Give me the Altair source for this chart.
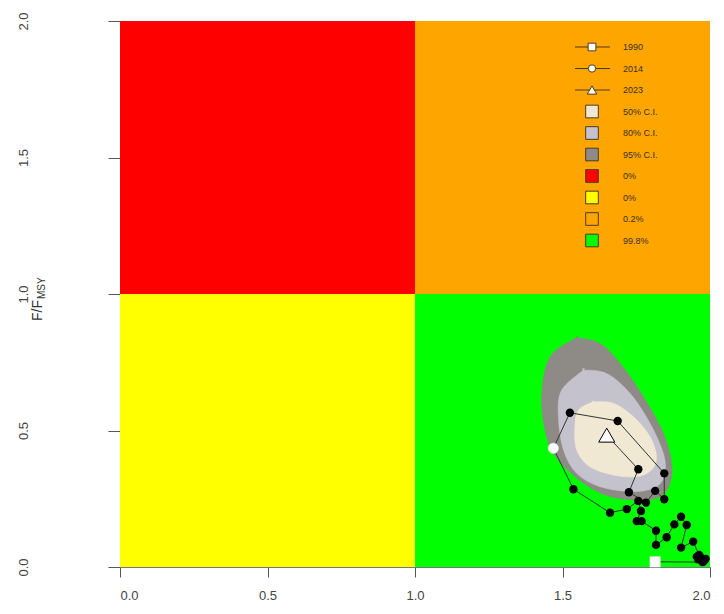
import altair as alt
import pandas as pd

# ---------------- data ----------------
years = list(range(1990, 2024))
b_ratio = [1.814, 1.975, 1.985, 1.972, 1.960, 1.980, 1.968, 1.955, 1.963, 1.943,
           1.902, 1.921, 1.902, 1.879, 1.853, 1.817, 1.817, 1.768, 1.752, 1.766,
           1.757, 1.718, 1.661, 1.537, 1.469, 1.525, 1.687, 1.845, 1.845, 1.814,
           1.783, 1.725, 1.757, 1.650]
f_ratio = [0.019, 0.018, 0.030, 0.026, 0.028, 0.022, 0.035, 0.038, 0.044, 0.093,
           0.071, 0.154, 0.184, 0.156, 0.109, 0.081, 0.133, 0.168, 0.168, 0.205,
           0.242, 0.212, 0.199, 0.285, 0.435, 0.565, 0.535, 0.343, 0.248, 0.279,
           0.236, 0.274, 0.358, 0.483]

# confidence-region outlines (vertices)
ci95_x = [1.548, 1.458, 1.429, 1.446, 1.486, 1.571, 1.661, 1.763, 1.831, 1.864, 1.870, 1.842, 1.774, 1.695, 1.627]
ci95_y = [0.840, 0.770, 0.624, 0.477, 0.392, 0.307, 0.258, 0.245, 0.258, 0.307, 0.380, 0.490, 0.624, 0.746, 0.819]
ci80_x = [1.571, 1.497, 1.486, 1.503, 1.548, 1.627, 1.740, 1.819, 1.847, 1.842, 1.797, 1.729, 1.650]
ci80_y = [0.722, 0.648, 0.551, 0.429, 0.343, 0.294, 0.276, 0.294, 0.343, 0.416, 0.526, 0.636, 0.709]
ci50_x = [1.604, 1.554, 1.542, 1.548, 1.593, 1.672, 1.752, 1.802, 1.819, 1.797, 1.740, 1.672]
ci50_y = [0.605, 0.575, 0.514, 0.429, 0.367, 0.337, 0.331, 0.355, 0.404, 0.477, 0.551, 0.600]

quad_x = [0.0, 0.0, 1.0, 1.0]
quad_x2 = [1.0, 1.0, 2.0, 2.0]
quad_y = [1.0, 0.0, 1.0, 0.0]
quad_y2 = [2.0, 1.0, 2.0, 1.0]
quad_color = ["#FF0000", "#FFFF00", "#FFA500", "#00FF00"]
quad_pct = ["0%", "0%", "0.2%", "99.8%"]

ci_labels = ["50% C.I.", "80% C.I.", "95% C.I."]
ci_colors = ["#F0E8D2", "#C4C2CC", "#8E8A86"]

ticks = [0.0, 0.5, 1.0, 1.5, 2.0]

W, H = 590, 546
xs = alt.Scale(domain=[0, 2], nice=False, zero=False)
ys = alt.Scale(domain=[0, 2], nice=False, zero=False)

# ---------------- quadrants ----------------
quad = pd.DataFrame({"x": quad_x, "x2": quad_x2, "y": quad_y, "y2": quad_y2, "c": quad_color})
quads = alt.Chart(quad).mark_rect(strokeWidth=0).encode(
    x=alt.X("x:Q", scale=xs, axis=alt.Axis(values=ticks, format=".1f", title=None)),
    x2="x2",
    y=alt.Y("y:Q", scale=ys, axis=alt.Axis(values=ticks, format=".1f", title=None)),
    y2="y2",
    color=alt.Color("c:N", scale=None),
)

# ---------------- confidence regions ----------------
def poly(xv, yv, col):
    d = pd.DataFrame({"x": xv + [xv[0]], "y": yv + [yv[0]]})
    d["i"] = range(len(d))
    return alt.Chart(d).mark_line(fill=col, stroke=col, strokeWidth=0.5, fillOpacity=1,
                                  interpolate="cardinal-closed").encode(
        x=alt.X("x:Q", scale=xs), y=alt.Y("y:Q", scale=ys), order="i:Q")

c95 = poly(ci95_x, ci95_y, ci_colors[2])
c80 = poly(ci80_x, ci80_y, ci_colors[1])
c50 = poly(ci50_x, ci50_y, ci_colors[0])

# ---------------- trajectory ----------------
traj = pd.DataFrame({"year": years, "b": b_ratio, "f": f_ratio})
path = alt.Chart(traj).mark_line(color="#333333", strokeWidth=1).encode(
    x=alt.X("b:Q", scale=xs), y=alt.Y("f:Q", scale=ys), order="year:Q")
dots = alt.Chart(traj[~traj.year.isin([1990, 2014, 2023])]).mark_point(
    filled=True, color="black", size=70, opacity=1).encode(
    x=alt.X("b:Q", scale=xs), y=alt.Y("f:Q", scale=ys))
first = alt.Chart(traj[traj.year == 1990]).mark_point(
    shape="square", filled=True, fill="white", stroke="#dddddd", strokeWidth=0.5, size=110, opacity=1).encode(
    x=alt.X("b:Q", scale=xs), y=alt.Y("f:Q", scale=ys))
mid = alt.Chart(traj[traj.year == 2014]).mark_point(
    shape="circle", filled=True, fill="white", stroke="#dddddd", strokeWidth=0.5, size=110, opacity=1).encode(
    x=alt.X("b:Q", scale=xs), y=alt.Y("f:Q", scale=ys))
last = alt.Chart(traj[traj.year == 2023]).mark_point(
    shape="triangle-up", filled=True, fill="white", stroke="black", strokeWidth=1, size=260, opacity=1).encode(
    x=alt.X("b:Q", scale=xs), y=alt.Y("f:Q", scale=ys))

# ---------------- legend (inside the top-right quadrant) ----------------
leg_labels = ["1990", "2014", "2023"] + ci_labels + quad_pct
leg_shapes = ["square", "circle", "triangle-up"] + ["square"] * 7
leg_fill = ["white", "white", "white"] + ci_colors + quad_color
leg_size = [60, 55, 90] + [160] * 7
leg = pd.DataFrame({"label": leg_labels, "shape": leg_shapes, "fill": leg_fill, "size": leg_size})
leg["ly"] = [26 + 21.5 * i for i in range(len(leg))]
leg_lines = alt.Chart(leg.iloc[:3]).mark_rule(color="#4a3a20", strokeWidth=1).encode(
    x=alt.value(455), x2=alt.value(490), y=alt.Y("ly:Q", scale=None))
leg_marks = alt.Chart(leg).mark_point(filled=True, stroke="#4a3a20", strokeWidth=1, opacity=1).encode(
    x=alt.value(472), y=alt.Y("ly:Q", scale=None),
    shape=alt.Shape("shape:N", scale=None), fill=alt.Fill("fill:N", scale=None),
    size=alt.Size("size:Q", scale=None))
leg_text = alt.Chart(leg).mark_text(align="left", baseline="middle", fontSize=9,
                                    font="Liberation Sans", color="#3a3020").encode(
    x=alt.value(503), y=alt.Y("ly:Q", scale=None), text="label:N")

# ---------------- y-axis title with subscript ----------------
ttl = pd.DataFrame({"t": ["F/F"], "s": ["MSY"]})
ytitle = alt.Chart(ttl).mark_text(angle=270, align="left", baseline="middle", fontSize=14,
                                  font="Liberation Sans", color="#333333").encode(
    x=alt.value(-82), y=alt.value(300), text="t:N")
ysub = alt.Chart(ttl).mark_text(angle=270, align="left", baseline="middle", fontSize=10,
                                font="Liberation Sans", color="#333333").encode(
    x=alt.value(-78), y=alt.value(278), text="s:N")

chart = alt.layer(quads, c95, c80, c50, path, dots, first, mid, last,
                  leg_lines, leg_marks, leg_text, ytitle, ysub).properties(
    width=W, height=H,
    autosize=alt.AutoSizeParams(type="none"),
    padding={"left": 112, "top": 13, "right": 6, "bottom": 39},
).configure_view(stroke=None).configure_axis(
    grid=False, domainColor="#777777", tickColor="#555555", labelColor="#444444",
    labelFont="Liberation Sans", labelFontSize=13,
).configure_axisX(
    tickSize=10, labelPadding=12, labelBaseline="top", labelAngle=0,
).configure_axisY(
    tickSize=12, labelPadding=78, labelAngle=270, labelAlign="center", labelBaseline="bottom",
    domain=False,
)

chart.save("out.html", embed_options={"renderer": "svg", "actions": False})
